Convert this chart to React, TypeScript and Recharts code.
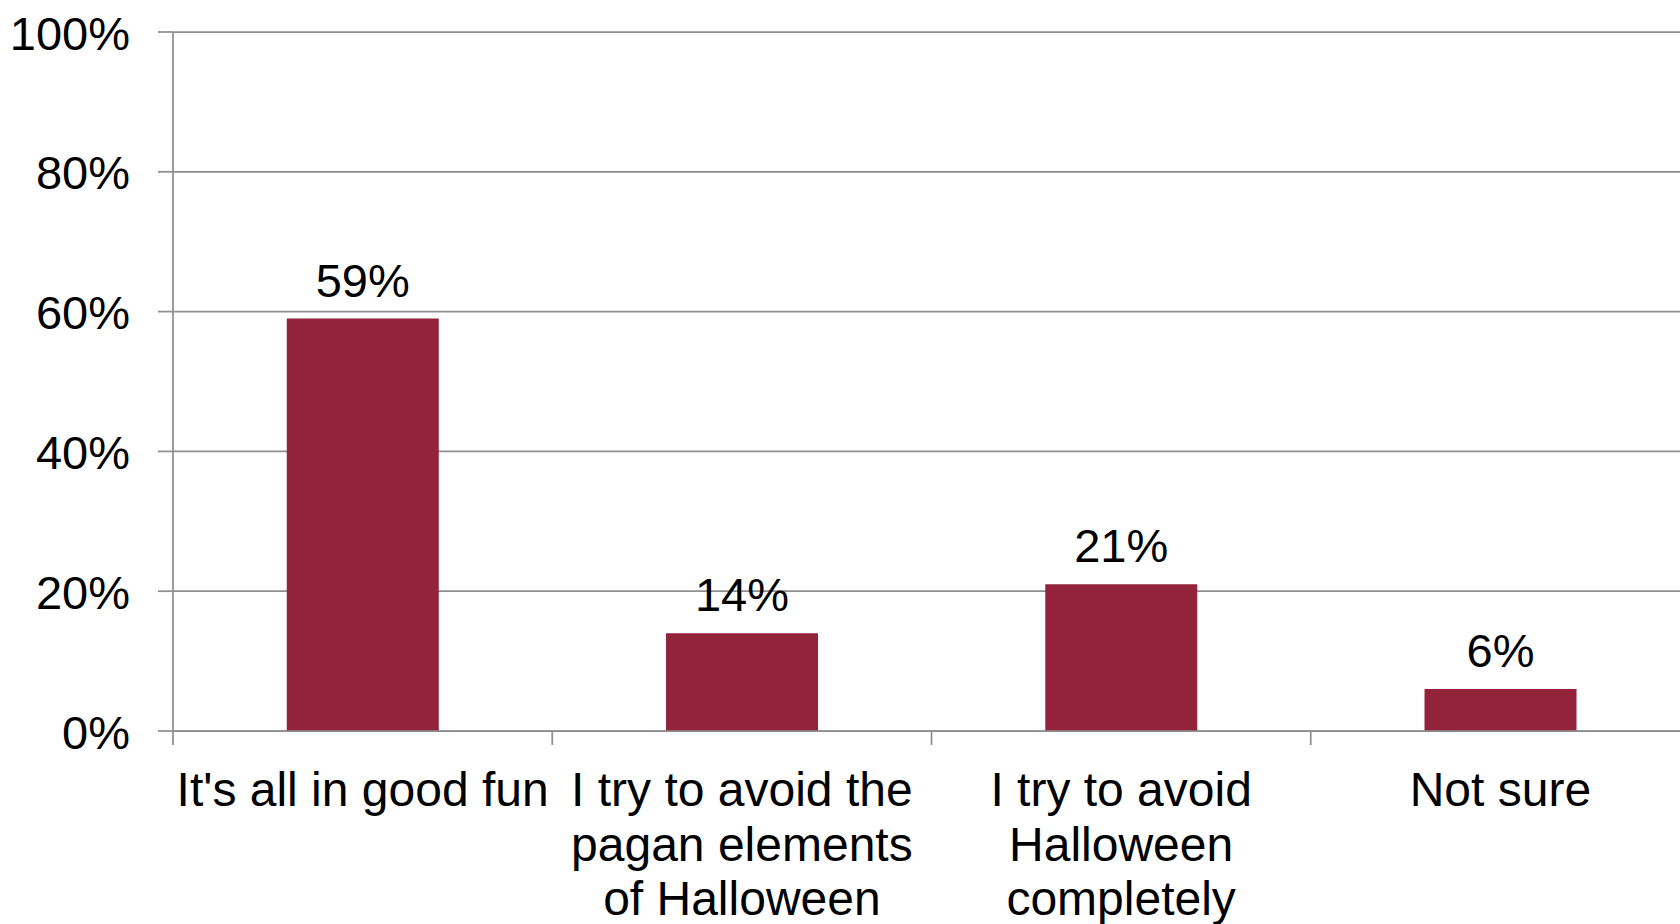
import React from "react"
import { BarChart, Bar, XAxis, YAxis, CartesianGrid, LabelList } from "recharts"

const categories = ["It's all in good fun", "I try to avoid the pagan elements of Halloween", "I try to avoid Halloween completely", "Not sure"]
const categoryLines = [
  ["It's all in good fun"],
  ["I try to avoid the", "pagan elements", "of Halloween"],
  ["I try to avoid", "Halloween", "completely"],
  ["Not sure"],
]
const shares = [59, 14, 21, 6]
const yTicks = [0, 20, 40, 60, 80, 100]

const FONT = "'Liberation Sans', Arial, sans-serif"
const GRID = "#8f8f8f"
const BAR = "#92233A"

const data = categories.map((name, i) => ({ name, lines: categoryLines[i], value: shares[i] }))

const CategoryTick = (props: any) => {
  const { x, y, payload, index, width } = props
  const band = (width || 1516) / categories.length
  const lines: string[] = categoryLines[index] || [payload.value]
  const left = x - band / 2
  return (
    <g>
      <line x1={left} x2={left} y1={y} y2={y + 14} stroke={GRID} strokeWidth={1.75} />
      {index === categories.length - 1 && (
        <line x1={left + band} x2={left + band} y1={y} y2={y + 14} stroke={GRID} strokeWidth={1.75} />
      )}
      <text x={x} y={y + 75} textAnchor="middle" fill="#000" fontSize={48} fontFamily={FONT}>
        {lines.map((line, i) => (
          <tspan key={i} x={x} dy={i === 0 ? 0 : 54.5}>
            {line}
          </tspan>
        ))}
      </text>
    </g>
  )
}

export default function App() {
  return (
    <div style={{ position: "absolute", left: 0, top: 0, width: 1680, height: 924, overflow: "hidden", background: "#fff" }}>
      <BarChart
        width={1690}
        height={924}
        data={data}
        margin={{ top: 32, right: 0, left: 0, bottom: 0 }}
        barCategoryGap="30%"
      >
        <CartesianGrid vertical={false} stroke={GRID} strokeWidth={1.75} />
        <XAxis
          dataKey="name"
          height={193}
          axisLine={{ stroke: GRID, strokeWidth: 1.75 }}
          tickLine={false}
          tickSize={0}
          tickMargin={0}
          interval={0}
          tick={<CategoryTick />}
        />
        <YAxis
          width={173}
          domain={[0, 100]}
          ticks={yTicks}
          interval={0}
          tickFormatter={(v) => `${v}%`}
          axisLine={{ stroke: GRID, strokeWidth: 1.75 }}
          tickLine={{ stroke: GRID, strokeWidth: 1.75 }}
          tickSize={15}
          tickMargin={28}
          tick={{ fill: "#000", fontSize: 47, fontFamily: FONT, dy: 1 }}
        />
        <Bar dataKey="value" fill={BAR} isAnimationActive={false}>
          <LabelList
            dataKey="value"
            position="top"
            offset={22}
            formatter={(v: any) => `${v}%`}
            fill="#000"
            fontSize={47}
            fontFamily={FONT}
          />
        </Bar>
      </BarChart>
    </div>
  )
}
